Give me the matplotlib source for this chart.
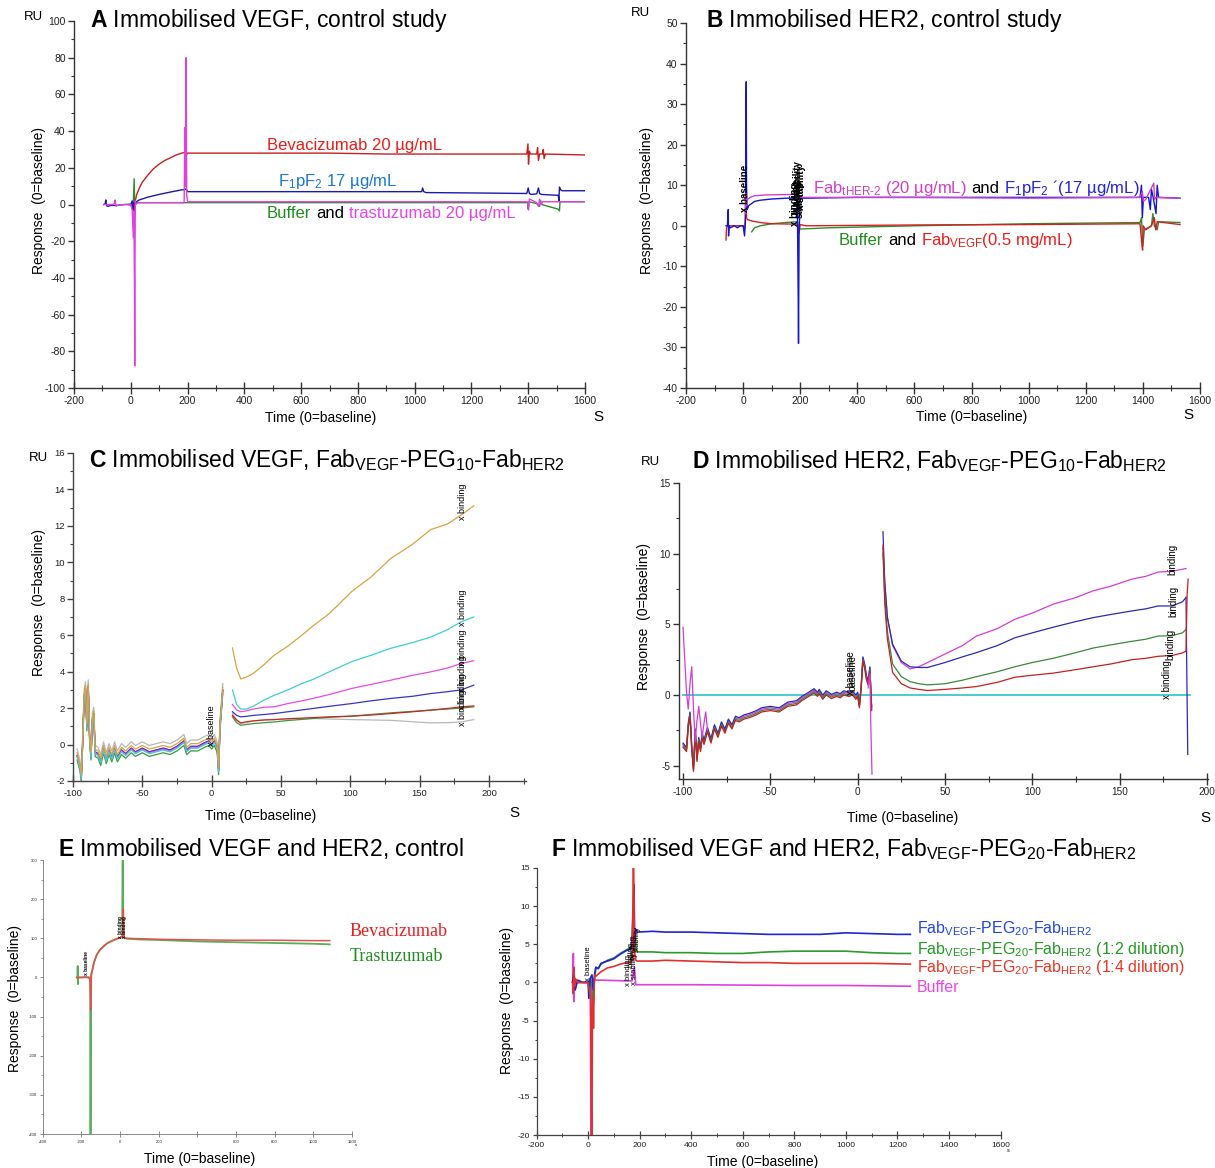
import matplotlib.pyplot as plt
from matplotlib.ticker import MultipleLocator, FixedLocator
from matplotlib.transforms import offset_copy

plt.rcParams['font.family'] = 'Liberation Sans'
plt.rcParams['mathtext.fontset'] = 'custom'
plt.rcParams['mathtext.rm'] = 'Liberation Sans'
plt.rcParams['mathtext.it'] = 'Liberation Sans:italic'
plt.rcParams['mathtext.bf'] = 'Liberation Sans:bold'
plt.rcParams['axes.unicode_minus'] = False

# ---------------- A: immobilised VEGF, control ----------------
a_red_t = [-5, 0, 5, 10, 13, 16, 20, 30, 40, 60, 80, 100, 120, 140, 160, 180, 190, 193, 196, 200,
           300, 500, 700, 900, 1100, 1300, 1395, 1399, 1401, 1404, 1408, 1430, 1433, 1436, 1440,
           1450, 1453, 1456, 1460, 1600]
a_red_y = [0, 0, -2, 1, -6, 2, 5, 9, 12, 16, 19.5, 22, 24, 25.5, 27, 28, 28.5, 31, 27, 28,
           28, 28, 28, 27.5, 27.5, 27.5, 27.5, 33, 22, 29, 27.5, 27.5, 31, 24, 27.5,
           27.5, 30, 25, 27.5, 27]
a_blue_t = [-95, -90, -88, -86, -84, -80, -70, -60, -50, -40, -20, 0, 5, 8, 11, 15, 30, 60, 100, 140,
            180, 190, 195, 200, 400, 700, 1000, 1025, 1028, 1032, 1040, 1200, 1395, 1400, 1404, 1410,
            1430, 1436, 1440, 1446, 1480, 1506, 1508, 1510, 1514, 1520, 1600]
a_blue_y = [0, 0.5, 2.5, 0, -0.8, -1, -0.5, -0.5, -0.5, -0.3, 0, 0, 2, -3, 1, 1, 2.5, 4, 5.5, 6.8,
            8, 8, 8.5, 7, 7, 7, 7, 7, 9, 7, 6.5, 6.3, 6, 9, 6, 5.5,
            5.8, 9, 6, 5.5, 5.2, 5, 2, 9.5, 8, 7.5, 7.5]
a_green_t = [-10, 0, 5, 8, 12, 14, 16, 20, 40, 190, 200, 600, 1000, 1390, 1398, 1400, 1403, 1430,
             1440, 1444, 1448, 1470, 1505, 1510, 1512, 1600]
a_green_y = [0, 0, 0, -3, 14, -2, 0.5, 1, 1, 1, 1, 1, 1, 1, 1, -2.5, 1.5, 0.5,
             -1, 2, 0, -1, -2.5, -3.5, 1.5, 1.5]
a_mag_t = [-95, -65, -58, -55, -52, -45, -20, 0, 5, 9, 11, 13, 14, 15, 16, 18, 25, 100, 188, 191,
           193, 195, 197, 200, 400, 800, 1200, 1398, 1401, 1404, 1430, 1436, 1440, 1446, 1450, 1600]
a_mag_y = [0, 0, 0.5, 2.5, -1, -0.3, 0, 0, -3, -18, -4, -45, -88, -30, 2, 0, 1, 1, 1, 42,
           10, 80, 5, 1.5, 1.5, 1.5, 1.5, 1.5, -3, 3, 1, -1, 3, 0, 1.5, 1.5]

# ---------------- B: immobilised HER2, control ----------------
b_blue_t = [-60, -55, -52, -51, -49, -45, -30, -20, -10, 0, 5, 8, 10, 11, 12, 14, 20, 40, 60, 100,
            150, 185, 190, 193, 194, 196, 200, 210, 400, 800, 1200, 1390, 1395, 1398, 1402, 1420,
            1426, 1430, 1436, 1446, 1450, 1455, 1530]
b_blue_y = [0, 0, 4, -2.5, 0, -0.5, 0, -0.5, 0, 0, -2.5, 1, 29, 35.5, 10, 4, 5, 6, 6.3, 6.6,
            6.8, 6.8, 5, -18, -29, -2, 7, 6.8, 7, 7, 7, 7, 10, 2, 7, 7,
            4, 9, 7, 3, 10, 7, 6.8]
b_mag_t = [8, 10, 12, 15, 25, 40, 80, 150, 185, 190, 195, 200, 600, 1000, 1390, 1398, 1402, 1410,
           1438, 1441, 1445, 1530]
b_mag_y = [3, 8, 5, 6.5, 7, 7.4, 7.6, 7.7, 7.7, 9.5, 7, 7, 7, 6.8, 7, 8.5, 6, 6.5,
           10.5, 6.5, 7, 6.8]
b_red_t = [-60, -58, -55, -50, -30, 0, 5, 8, 10, 12, 15, 30, 60, 100, 190, 195, 200, 220, 600, 1000,
           1390, 1397, 1399, 1401, 1410, 1430, 1440, 1445, 1450, 1530]
b_red_y = [-3.5, -0.5, 0, 0, 0, 0, -1, 2, 8.5, 2, 1.5, 1.2, 0.8, 0.5, 0.4, -2, 0.3, 0, 0.2, 0.3,
           0.5, -5, -6, 0, -1, 0, 2, -1, 1, 0.3]
b_green_t = [30, 35, 40, 60, 100, 150, 190, 195, 200, 300, 600, 1000, 1390, 1395, 1400, 1405, 1430,
             1435, 1440, 1450, 1455, 1530]
b_green_y = [-1.5, -1, -0.5, 0, 0.5, 0.8, 1, -1, -0.8, -0.5, 0, 0.5, 0.8, 2, -5, -1, 0,
             3, 0, -1, 1, 0.8]
b_tag_t = [8, 180, 186, 192, 198, 204]
b_tag_y = [3.5, 0, 3, 5, 2, 4]
b_tag_s = ['x baseline', 'x binding', 'binding', 'x stability', 'stability', 'x stability']

# ---------------- C: immobilised VEGF, PEG10 conjugate ----------------
c_pre_t = [-97, -95, -94, -93, -92, -91, -90, -89, -88, -87, -86, -85, -84, -82, -80, -78, -76, -74,
           -72, -70, -68, -65, -62, -58, -55, -50, -45, -40, -35, -30, -25, -20, -18, -15, -10, -5,
           -2, 0, 2, 4, 5, 6, 7, 8]
c_pre_y = [-0.6, -1.2, -1.8, 0.2, 2.6, 3.1, 1.0, 3.2, 0.3, -0.6, 1.4, 1.7, -0.4, -0.5, -0.9, -0.2,
           -0.8, -0.3, -0.7, -0.2, -0.7, -0.3, -0.5, -0.2, -0.4, -0.2, -0.4, -0.3, -0.2, -0.3, -0.1,
           0.2, -0.3, -0.1, -0.1, 0.1, 0.2, 0.0, 0.2, -0.2, -1.4, 1.0, 2.0, 3.0]
c_post_t = [15, 18, 21, 25, 30, 38, 45, 55, 65, 73, 85, 101, 115, 129, 145, 158, 170, 180, 189]
c_gold = [5.3, 4.2, 3.6, 3.7, 3.9, 4.4, 4.9, 5.4, 6.0, 6.5, 7.2, 8.4, 9.2, 10.2, 11.0, 11.8, 12.1, 12.6, 13.1]
c_cyan = [3.0, 2.2, 1.95, 1.95, 2.1, 2.45, 2.7, 3.0, 3.35, 3.57, 4.0, 4.55, 4.9, 5.28, 5.6, 5.9, 6.3, 6.74, 7.0]
c_mag = [2.2, 1.9, 1.8, 1.85, 1.95, 2.05, 2.07, 2.25, 2.4, 2.53, 2.75, 3.08, 3.3, 3.53, 3.8, 3.99, 4.2, 4.45, 4.6]
c_blue = [1.8, 1.6, 1.52, 1.55, 1.6, 1.65, 1.7, 1.8, 1.9, 1.98, 2.1, 2.25, 2.4, 2.53, 2.65, 2.8, 2.9, 3.0, 3.26]
c_red = [1.6, 1.35, 1.19, 1.25, 1.3, 1.35, 1.37, 1.42, 1.45, 1.48, 1.52, 1.56, 1.62, 1.7, 1.8, 1.89, 1.98, 2.07, 2.12]
c_green = [1.52, 1.2, 1.06, 1.1, 1.15, 1.2, 1.24, 1.32, 1.38, 1.43, 1.5, 1.56, 1.65, 1.74, 1.82, 1.89, 1.95, 2.0, 2.07]
c_gray = [1.7, 1.35, 1.15, 1.2, 1.3, 1.35, 1.37, 1.4, 1.42, 1.43, 1.4, 1.37, 1.35, 1.33, 1.25, 1.19, 1.2, 1.24, 1.37]
c_pre_offset = [0.15, -0.1, -0.05, 0.0, 0.0, -0.25, 0.35]
c_tag_t = [181, 181, 181, 181, 181, 181, 0]
c_tag_y = [12.3, 6.5, 4.3, 2.9, 1.9, 1.0, -0.1]
c_tag_s = ['x binding', 'x binding', 'x binding', 'x binding', 'x binding', 'x binding', 'x baseline']

# ---------------- D: immobilised HER2, PEG10 conjugate ----------------
d_pre_t = [-100, -98, -97, -96, -95, -94, -93, -92, -91, -90, -89, -88, -86, -84, -82, -80, -78, -76,
           -74, -72, -70, -68, -65, -62, -58, -55, -50, -45, -40, -35, -32, -28, -25, -23, -22, -20,
           -18, -15, -12, -10, -8, -5, -3, -1, 0, 1, 2, 3, 4, 5, 6, 7, 8]
d_pre_y = [-3.6, -3.9, -2.2, -1.4, -3.8, -5.3, -2.6, -4.6, -3.2, -3.9, -2.9, -3.4, -2.5, -3.3, -2.3,
           -2.9, -2.1, -2.6, -1.9, -2.3, -1.7, -1.8, -1.6, -1.5, -1.3, -1.1, -1.0, -1.1, -0.7, -0.6,
           -0.3, 0.0, 0.25, 0.0, 0.2, -0.2, 0.1, -0.15, 0.0, -0.1, 0.1, 0.0, 0.1, -0.2, 0.0, -0.8,
           0.5, 2.5, 2.0, 1.2, 0.8, 1.8, -1.0]
d_pre_offset = [0.1, 0.2, 0.0, -0.1]
d_mag_early_t = [-100, -99, -98, -97, -96, -95, -94, -93, -92, -91, -90, -89, -88, -87, -86]
d_mag_early_y = [4.8, 2.5, 0.2, -1.0, 0.8, 2.0, -1.0, -3.3, -1.8, -0.8, -2.0, -3.0, -2.0, -1.2, -2.5]
d_mag_drop_t = [6, 7, 7.5, 8.2]
d_mag_drop_y = [0.5, 1.5, -2.0, -5.6]
d_post_t = [14.5, 15.5, 17, 20, 25, 30, 35, 40, 50, 60, 68, 80, 90, 100, 112, 125, 135, 145, 157, 165,
            172, 180, 186, 188]
d_mag = [10.4, 8.0, 5.5, 3.5, 2.3, 1.85, 2.0, 2.3, 2.9, 3.5, 4.17, 4.7, 5.36, 5.8, 6.43, 6.9, 7.38,
         7.7, 8.2, 8.4, 8.7, 8.75, 8.9, 8.95]
d_blue = [11.55, 8.0, 5.5, 3.6, 2.4, 2.0, 1.95, 1.95, 2.3, 2.7, 3.0, 3.5, 4.05, 4.4, 4.8, 5.2, 5.48,
          5.7, 5.95, 6.1, 6.3, 6.3, 6.6, 6.9]
d_green = [10.0, 7.0, 4.5, 2.2, 1.3, 0.95, 0.8, 0.72, 0.8, 1.05, 1.3, 1.65, 2.0, 2.3, 2.6, 3.0, 3.33,
           3.55, 3.8, 3.95, 4.17, 4.2, 4.4, 4.64]
d_red = [10.6, 6.5, 4.0, 1.6, 0.8, 0.5, 0.4, 0.32, 0.4, 0.5, 0.6, 0.9, 1.26, 1.4, 1.55, 1.8, 2.0, 2.2,
         2.5, 2.6, 2.74, 2.8, 2.98, 3.1]
d_blue_tail_t = [188, 188.5, 189]
d_blue_tail_y = [6.9, 1.0, -4.2]
d_red_tail_t = [188, 188.6, 189.2]
d_red_tail_y = [3.1, 7.0, 8.2]
d_zero_t = [-100, 190]
d_zero_y = [0, 0]
d_tag_t = [-4, -3, 177, 179, 181, 180]
d_tag_y = [0.0, 0.3, -0.3, 2.5, 5.5, 8.5]
d_tag_s = ['x baseline', 'baseline', 'x binding', 'binding', 'binding', 'binding']

# ---------------- E: VEGF and HER2, control ----------------
e_red_t = [-224, -200, -170, -160, -155, -152, -150, -148, -143, -135, -121, -105, -86, -70, -52, -30,
           -9, 5, 13, 15, 17, 19, 22, 34, 100, 241, 400, 585, 800, 1000, 1085]
e_red_y = [0, 0, 0, 0, -10, -83, -40, 5, 19, 38, 57, 70, 79, 86, 91, 96,
           100, 102, 104, 130, 174, 120, 101, 100, 99, 97, 96, 95, 95, 94, 94]
e_green_t = [-224, -220, -219, -218, -216, -200, -180, -160, -154, -153, -152, -151, -150, -143, -135,
             -121, -105, -86, -70, -52, -30, -9, 5, 11, 13, 15, 17, 22, 34, 100, 241, 400, 585, 800,
             1000, 1085]
e_green_y = [0, 2, 29, -17, 0, 0, 1, 0, -5, -400, -400, -100, 8, 19, 38,
             57, 70, 79, 86, 91, 96, 100, 102, 103, 300, 300, 110, 102, 99, 97, 95, 92, 90, 88,
             86, 84.5]
e_xticks = [-400, -200, 0, 200, 400, 600, 800, 1000, 1200]
e_xlabels = ['-400', '-200', '0', '200', '', '600', '800', '1000', '1200']
e_tag_t = [-172, 0, 22]
e_tag_y = [5, 100, 100]
e_tag_s = ['x baseline', 'x binding', 'x binding']

# ---------------- F: VEGF and HER2, PEG20 conjugate ----------------
f_blue_t = [-60, -55, -50, -40, -20, 0, 3, 8, 15, 20, 25, 30, 40, 50, 75, 100, 125, 150, 160, 168,
            172, 175, 178, 181, 184, 190, 250, 300, 400, 500, 600, 700, 800, 900, 1000, 1100, 1200, 1250]
f_blue_y = [0, 1.5, -1, 0.3, 0, 0, -2.1, 0.5, 1.0, -1.0, 1.0, 2.0, 1.8, 2.5, 2.8, 3.1, 3.7, 4.2, 4.3,
            4.5, 6.0, 4.0, 12.8, 5.0, 7.0, 6.6, 6.7, 6.6, 6.6, 6.5, 6.4, 6.3, 6.3, 6.3, 6.5, 6.4, 6.3, 6.3]
f_green_t = [-60, -50, -40, -20, 0, 8, 15, 20, 25, 30, 40, 50, 75, 100, 125, 150, 160, 168, 175, 180,
             183, 186, 190, 250, 300, 400, 500, 600, 700, 800, 900, 1000, 1100, 1200, 1250]
f_green_y = [0, 0.5, 0, 0, 0, 0.5, -1.0, -3.0, 0.5, 1.8, 1.9, 2.4, 2.9, 3.2, 3.8, 4.3, 4.5, 4.6, 9.8,
             4.0, 7.0, 4.2, 4.0, 4.0, 3.9, 3.9, 3.8, 3.8, 4.0, 4.1, 4.1, 4.1, 3.9, 3.8, 3.8]
f_red_t = [-60, -58, -55, -52, -50, -40, -20, 0, 5, 10, 13, 15, 17, 19, 21, 24, 27, 30, 50, 75,
           100, 125, 150, 165, 172, 175, 177, 180, 185, 190, 250, 300, 400, 500, 600, 700, 800, 1000,
           1100, 1250]
f_red_y = [0, -1.5, 2, -0.5, 0.5, 0, 0, 0, -1, -2, -20, -20, -3.5, -2, -6, 0, 1.0, 0.8, 1.4, 1.9,
           2.1, 2.4, 2.6, 2.7, 3, 15, 15, 4, 2.9, 2.8, 2.8, 2.9, 2.8, 2.7, 2.6, 2.6, 2.5, 2.5,
           2.5, 2.4]
f_mag_t = [-60, -57, -55, -53, -50, -40, -20, 0, 5, 9, 11, 12, 14, 16, 20, 50, 100, 150, 170, 180,
           185, 190, 250, 400, 600, 800, 1000, 1250]
f_mag_y = [0, 3.8, -2.5, 0.5, 0, 0, 0, 0, -0.5, 0, -20, -20, -1, 0.3, 0.3, 0.3, 0.25, 0.2, 0.2, 2,
           -0.3, -0.3, -0.3, -0.3, -0.35, -0.4, -0.4, -0.5]
f_tag_t = [2, 158, 166, 174, 182, 190]
f_tag_y = [0.2, -0.5, 2.0, 3.0, -0.3, 4.0]
f_tag_s = ['x baseline', 'x binding', 'binding', 'binding', 'x stability', 'stability']

# ---------------- figure helpers ----------------
W, H = 1215, 1168
fig = plt.figure(figsize=(W / 100, H / 100), dpi=100)
renderer = fig.canvas.get_renderer()


def box(x0, y0, x1, y1):
    return fig.add_axes([x0 / W, 1 - y1 / H, (x1 - x0) / W, (y1 - y0) / H])


def ftext(x, y, s, **kw):
    kw.setdefault('va', 'center')
    return fig.text(x / W, 1 - y / H, s, **kw)


def style(ax, xlim, ylim, xstep, ystep, fs, xminor=None, yminor=None, lw=1.0, col='#333333', tl=4):
    ax.set_xlim(*xlim)
    ax.set_ylim(*ylim)
    ax.set_facecolor('none')
    ax.spines[['top', 'right']].set_visible(False)
    ax.spines[['left', 'bottom']].set_color(col)
    ax.spines[['left', 'bottom']].set_linewidth(lw)
    ax.xaxis.set_major_locator(MultipleLocator(xstep))
    ax.yaxis.set_major_locator(MultipleLocator(ystep))
    if xminor:
        ax.xaxis.set_minor_locator(MultipleLocator(xminor))
    if yminor:
        ax.yaxis.set_minor_locator(MultipleLocator(yminor))
    ax.tick_params(axis='x', which='major', direction='inout', length=tl * 2, width=lw, color=col,
                   labelsize=fs, labelcolor='#222222', pad=2)
    ax.tick_params(axis='x', which='minor', direction='inout', length=tl, width=lw * 0.8, color=col)
    ax.tick_params(axis='y', which='major', direction='out', length=tl, width=lw, color=col,
                   labelsize=fs, labelcolor='#222222', pad=2)
    ax.tick_params(axis='y', which='minor', direction='out', length=tl * 0.6, width=lw * 0.8, color=col)


def multi(ax, x, y, parts, fs):
    # several coloured pieces of text on one baseline
    trans = ax.transData
    for s, c, gap in parts:
        t = ax.text(x, y, s, color=c, fontsize=fs, transform=trans, ha='left', va='baseline')
        w = t.get_window_extent(renderer).width
        trans = offset_copy(trans, fig=fig, x=w + gap * fs * 100 / 72, y=0, units='dots')


def tags(ax, ts, ys, ss, fs, weight='normal'):
    for t, y, s in zip(ts, ys, ss):
        ax.text(t, y, s, rotation=90, fontsize=fs, ha='center', va='bottom', color='black',
                fontweight=weight)


SP = 0.278
TITLE_FS = 16.5
LAB_FS = 10

# ---------------- panel A ----------------
ax = box(74, 21, 585, 388)
style(ax, (-200, 1600), (-100, 100), 200, 20, 7.5, 100, 10)
ax.plot(a_green_t, a_green_y, color='#2E8B2E', lw=1.0)
ax.plot(a_red_t, a_red_y, color='#C81E1E', lw=1.0)
ax.plot(a_blue_t, a_blue_y, color='#1A1AB0', lw=1.0)
ax.plot(a_mag_t, a_mag_y, color='#E040E0', lw=1.0)
multi(ax, 480, 29.7, [('Bevacizumab 20 µg/mL', '#EE1C1C', 0)], 12)
multi(ax, 519, 10.2, [('F$_1$pF$_2$ 17 µg/mL', '#1C78D0', 0)], 12)
multi(ax, 480, -7.4, [('Buffer', '#1E8E1E', SP), ('and', 'black', SP),
                      ('trastuzumab 20 µg/mL', '#E645E6', 0)], 12)
ftext(90, 27, r'$\mathbf{A}$ Immobilised VEGF, control study', fontsize=TITLE_FS, va='baseline')
ftext(33, 17, 'RU', fontsize=9.5, ha='center')
ftext(39, 200, 'Response  (0=baseline)', fontsize=LAB_FS, rotation=90, ha='center')
ftext(321, 418, 'Time (0=baseline)', fontsize=LAB_FS, ha='center')
ftext(598, 417, 'S', fontsize=11, ha='center')

# ---------------- panel B ----------------
ax = box(686, 23, 1200, 388)
style(ax, (-200, 1600), (-40, 50), 200, 10, 7.5, 100, 5)
ax.plot(b_green_t, b_green_y, color='#2E8B2E', lw=1.0)
ax.plot(b_red_t, b_red_y, color='#D42020', lw=1.0)
ax.plot(b_blue_t, b_blue_y, color='#1515CC', lw=1.0)
ax.plot(b_mag_t, b_mag_y, color='#D040D0', lw=1.0)
tags(ax, b_tag_t, b_tag_y, b_tag_s, 7, 'bold')
multi(ax, 245, 8.2, [(r'Fab$_{\text{tHER-2}}$ (20 µg/mL)', '#D63CC8', SP), ('and', 'black', SP),
                     ('F$_1$pF$_2$ ´(17 µg/mL)', '#2222EE', 0)], 12)
multi(ax, 336, -4.7, [('Buffer', '#1E8E1E', SP), ('and', 'black', SP),
                      (r'Fab$_{\mathrm{VEGF}}$(0.5 mg/mL)', '#EE1C1C', 0)], 12)
ftext(706, 27, r'$\mathbf{B}$ Immobilised HER2, control study', fontsize=TITLE_FS, va='baseline')
ftext(640, 13, 'RU', fontsize=9.5, ha='center')
ftext(647, 200, 'Response  (0=baseline)', fontsize=LAB_FS, rotation=90, ha='center')
ftext(972, 417, 'Time (0=baseline)', fontsize=LAB_FS, ha='center')
ftext(1188, 415, 'S', fontsize=11, ha='center')

# ---------------- panel C ----------------
ax = box(73, 453, 526, 781)
style(ax, (-100, 226.7), (-2, 16), 50, 2, 6.8, 25, 1, col='#444444')
c_series = [c_gray, c_green, c_red, c_blue, c_mag, c_cyan, c_gold]
c_colors = ['#B8B8B8', '#3A9A3A', '#C82828', '#3535C8', '#E84AE8', '#3ECFCF', '#D9A441']
c_offs = [c_pre_offset[6], c_pre_offset[5], c_pre_offset[4], c_pre_offset[3], c_pre_offset[2],
          c_pre_offset[1], c_pre_offset[0]]
for ys, col, off in zip(c_series, c_colors, c_offs):
    ax.plot(c_pre_t, [v + off for v in c_pre_y], color=col, lw=0.9)
    ax.plot(c_post_t, ys, color=col, lw=0.9)
tags(ax, c_tag_t, c_tag_y, c_tag_s, 6.5)
ftext(89, 467, r'$\mathbf{C}$ Immobilised VEGF, Fab$_{\mathrm{VEGF}}$-PEG$_{\mathrm{10}}$-Fab$_{\mathrm{HER2}}$',
      fontsize=TITLE_FS, va='baseline')
ftext(38, 458, 'RU', fontsize=9.5, ha='center')
ftext(39, 603, 'Response  (0=baseline)', fontsize=LAB_FS, rotation=90, ha='center')
ftext(261, 816, 'Time (0=baseline)', fontsize=LAB_FS, ha='center')
ftext(514, 813, 'S', fontsize=11, ha='center')

# ---------------- panel D ----------------
ax = box(679, 483, 1207.5, 779)
style(ax, (-102.3, 200.3), (-5.94, 15), 50, 5, 7.2, 25, 2.5, col='#333333')
ax.plot(d_zero_t, d_zero_y, color='#3EC8C8', lw=1.3)
d_series = [d_mag, d_blue, d_green, d_red]
d_colors = ['#D63CD6', '#2A2AB8', '#3A8A3A', '#C42020']
for ys, col, off in zip(d_series, d_colors, d_pre_offset):
    ax.plot(d_pre_t, [v + off for v in d_pre_y], color=col, lw=0.9)
    ax.plot(d_post_t, ys, color=col, lw=0.9)
ax.plot(d_mag_early_t, d_mag_early_y, color='#D63CD6', lw=0.9)
ax.plot(d_mag_drop_t, d_mag_drop_y, color='#D63CD6', lw=0.9)
ax.plot(d_blue_tail_t, d_blue_tail_y, color='#2A2AB8', lw=0.9)
ax.plot(d_red_tail_t, d_red_tail_y, color='#C42020', lw=0.9)
tags(ax, d_tag_t, d_tag_y, d_tag_s, 7)
ftext(692, 468, r'$\mathbf{D}$ Immobilised HER2, Fab$_{\mathrm{VEGF}}$-PEG$_{\mathrm{10}}$-Fab$_{\mathrm{HER2}}$',
      fontsize=TITLE_FS, va='baseline')
ftext(650, 462, 'RU', fontsize=9.5, ha='center')
ftext(644, 617, 'Response  (0=baseline)', fontsize=LAB_FS, rotation=90, ha='center')
ftext(903, 818, 'Time (0=baseline)', fontsize=LAB_FS, ha='center')
ftext(1205, 818, 'S', fontsize=11, ha='center')

# ---------------- panel E ----------------
ax = box(42.7, 860, 352, 1134)
style(ax, (-400, 1200), (-400, 300), 200, 100, 3, None, 50, lw=0.6, col='#777777', tl=2)
ax.xaxis.set_major_locator(FixedLocator(e_xticks))
ax.set_xticklabels(e_xlabels)
ax.plot(e_green_t, e_green_y, color='#58AE58', lw=1.3)
ax.plot(e_red_t, e_red_y, color='#E85050', lw=1.1)
tags(ax, e_tag_t, e_tag_y, e_tag_s, 3.5, 'bold')
ftext(58, 856, r'$\mathbf{E}$ Immobilised VEGF and HER2, control', fontsize=TITLE_FS, va='baseline')
ftext(350, 936, 'Bevacizumab', fontsize=13, family='Liberation Serif', color='#EE1C1C', va='baseline')
ftext(350, 961, 'Trastuzumab', fontsize=13, family='Liberation Serif', color='#1E8E1E', va='baseline')
ftext(15, 998, 'Response  (0=baseline)', fontsize=LAB_FS, rotation=90, ha='center')
ftext(200, 1159, 'Time (0=baseline)', fontsize=LAB_FS, ha='center')
ftext(356, 1145, 's', fontsize=3, ha='center')

# ---------------- panel F ----------------
ax = box(536.5, 868, 1000.6, 1135)
style(ax, (-200, 1600), (-20, 15), 200, 5, 6.1, 100, 2.5, lw=0.9, col='#444444', tl=3)
ax.plot(f_mag_t, f_mag_y, color='#E040E0', lw=1.2)
ax.plot(f_green_t, f_green_y, color='#2E9A2E', lw=1.2)
ax.plot(f_blue_t, f_blue_y, color='#2323D0', lw=1.2)
ax.plot(f_red_t, f_red_y, color='#E03030', lw=1.2)
tags(ax, f_tag_t, f_tag_y, f_tag_s, 5.5)
f_name = r'Fab$_{\mathrm{VEGF}}$-PEG$_{\mathrm{20}}$-Fab$_{\mathrm{HER2}}$'
multi(ax, 1276, 6.44, [(f_name, '#2244EE', 0)], 11.5)
multi(ax, 1276, 3.73, [(f_name + ' (1:2 dilution)', '#229922', 0)], 11.5)
multi(ax, 1276, 1.41, [(f_name + ' (1:4 dilution)', '#EE3322', 0)], 11.5)
multi(ax, 1276, -1.2, [('Buffer', '#EE44EE', 0)], 11.5)
ftext(551, 856, r'$\mathbf{F}$ Immobilised VEGF and HER2, ' + f_name, fontsize=TITLE_FS, va='baseline')
ftext(507, 1000, 'Response  (0=baseline)', fontsize=LAB_FS, rotation=90, ha='center')
ftext(763, 1162, 'Time (0=baseline)', fontsize=LAB_FS, ha='center')
ftext(1008, 1150, 's', fontsize=4, ha='center')

fig.savefig('out.png', dpi=100)
